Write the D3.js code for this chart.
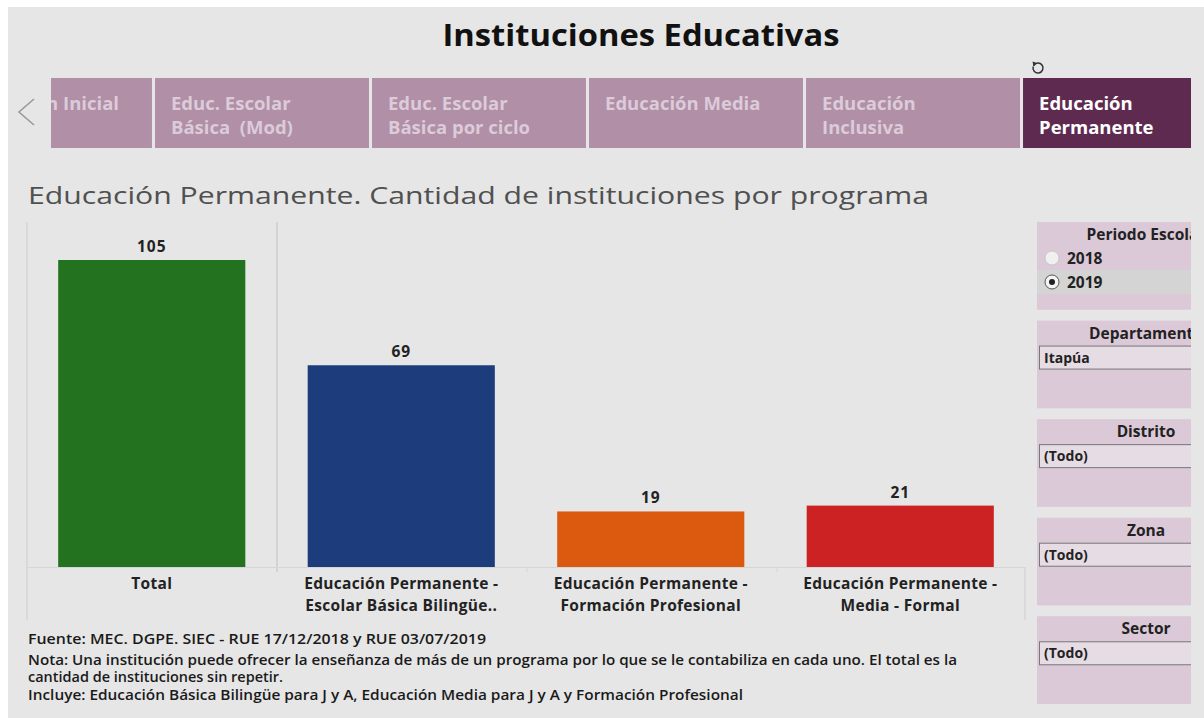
<!DOCTYPE html>
<html>
<head>
<meta charset="utf-8">
<script src="https://cdn.jsdelivr.net/npm/d3@7"></script>
<style>
  html, body { margin: 0; padding: 0; background: #fff; }
  svg { display: block; }
  text { font-family: "Open Sans", "Noto Sans", sans-serif; }
</style>
</head>
<body>
<svg id="chart" width="1204" height="718"></svg>
<script>
// data
let categories = ["Total", "Educación Permanente - Escolar Básica Bilingüe..", "Educación Permanente - Formación Profesional", "Educación Permanente - Media - Formal"];
let categoryLines = [["Total"], ["Educación Permanente -", "Escolar Básica Bilingüe.."], ["Educación Permanente -", "Formación Profesional"], ["Educación Permanente -", "Media - Formal"]];
let values = [105, 69, 19, 21];
let barColors = ["#22721f", "#1c3c7c", "#dc5a10", "#cc2224"];

let tabs = [["Educación Inicial"], ["Educ. Escolar", "Básica  (Mod)"], ["Educ. Escolar", "Básica por ciclo"], ["Educación Media"], ["Educación", "Inclusiva"], ["Educación", "Permanente"]];
let activeTab = 5;

let years = ["2018", "2019"];
let selectedYear = "2019";
let filterTitles = ["Periodo Escolar", "Departamento", "Distrito", "Zona", "Sector"];
let filterValues = [null, "Itapúa", "(Todo)", "(Todo)", "(Todo)"];

let notes = [
  "Fuente: MEC. DGPE. SIEC  - RUE 17/12/2018 y RUE 03/07/2019",
  "Nota: Una institución puede ofrecer la enseñanza de más de un programa por lo que se le contabiliza en cada uno. El total es la",
  "cantidad de instituciones sin repetir.",
  "Incluye:  Educación Básica Bilingüe para J y A, Educación Media para J y A y Formación Profesional"
];
let noteWidths = [458, 929, 255, 715];

let svg = d3.select("#chart");
let width = +svg.attr("width");
let height = +svg.attr("height");

// background
svg.append("rect").attr("x", 8).attr("y", 7).attr("width", width - 8).attr("height", height - 7).attr("fill", "#e6e6e6");

// title
svg.append("text").attr("x", 641).attr("y", 46).attr("text-anchor", "middle")
  .attr("font-size", 31).attr("font-weight", 700).attr("fill", "#111")
  .attr("textLength", 397).attr("lengthAdjust", "spacingAndGlyphs")
  .text("Instituciones Educativas");

// tabs
let tabX = d3.scaleBand().domain(d3.range(tabs.length)).range([-62, 1237]).paddingInner(0.014).paddingOuter(0);
svg.append("clipPath").attr("id", "tabclip").append("rect").attr("x", 51).attr("y", 70).attr("width", 1140).attr("height", 90);
let tabG = svg.append("g").attr("clip-path", "url(#tabclip)");
tabs.forEach((t, i) => {
  let x0 = tabX(i);
  let active = i === activeTab;
  tabG.append("rect").attr("x", x0).attr("y", 78).attr("width", tabX.bandwidth()).attr("height", 70)
    .attr("fill", active ? "#5e2a4f" : "#b08fa7");
  t.forEach((line, j) => {
    let tx = tabG.append("text").attr("y", 110 + j * 24)
      .attr("font-size", 18.5).attr("font-weight", 700)
      .attr("fill", active ? "#ffffff" : "#dccbd8")
      .attr("xml:space", "preserve")
      .text(line);
    // the first tab is scrolled partly out of view
    if (i === 0) tx.attr("x", x0 + 181).attr("text-anchor", "end");
    else tx.attr("x", x0 + 16);
  });
});
// left arrow
svg.append("path").attr("d", "M34,99 L19,112 L34,125").attr("fill", "none").attr("stroke", "#9a9a9a").attr("stroke-width", 1.6);
// reset icon
let ri = svg.append("g").attr("transform", "translate(1038,68)");
ri.append("path").attr("d", d3.arc()({innerRadius: 5, outerRadius: 5, startAngle: -Math.PI * 0.35, endAngle: Math.PI * 1.6}))
  .attr("fill", "none").attr("stroke", "#333").attr("stroke-width", 1.5);
ri.append("path").attr("d", "M-5.5,-6.5 L-1,-5 L-4.5,-1.5 Z").attr("fill", "#333");

// subtitle
svg.append("text").attr("x", 28).attr("y", 204).attr("font-size", 24).attr("fill", "#505050")
  .attr("font-family", "'Noto Sans', sans-serif").attr("font-weight", 400)
  .attr("textLength", 901).attr("lengthAdjust", "spacingAndGlyphs")
  .text("Educación Permanente. Cantidad de instituciones por programa");

// chart
let x = d3.scaleBand().domain(categories).range([27, 1025]).paddingInner(0.25).paddingOuter(0.125);
let y = d3.scaleLinear().domain([0, 105]).range([567, 260]);
let chart = svg.append("g");

// gridlines / dividers
let lineColor = "#cdcdcd";
chart.append("line").attr("x1", 27).attr("x2", 27).attr("y1", 222).attr("y2", 620).attr("stroke", lineColor);
chart.append("line").attr("x1", 277).attr("x2", 277).attr("y1", 222).attr("y2", 572).attr("stroke", lineColor).attr("stroke-width", 1.5);
chart.append("line").attr("x1", 1025).attr("x2", 1025).attr("y1", 567).attr("y2", 620).attr("stroke", lineColor);
chart.append("line").attr("x1", 27).attr("x2", 1025).attr("y1", 567.5).attr("y2", 567.5).attr("stroke", "#d6d6d6");
[527, 777].forEach(v => chart.append("line").attr("x1", v).attr("x2", v).attr("y1", 567).attr("y2", 572).attr("stroke", "#d6d6d6"));

chart.selectAll(".bar").data(values).join("rect").attr("class", "bar")
  .attr("x", (d, i) => x(categories[i]))
  .attr("y", d => y(d))
  .attr("width", x.bandwidth())
  .attr("height", d => y(0) - y(d))
  .attr("fill", (d, i) => barColors[i]);

chart.selectAll(".val").data(values).join("text").attr("class", "val")
  .attr("x", (d, i) => x(categories[i]) + x.bandwidth() / 2)
  .attr("y", d => y(d) - 8)
  .attr("text-anchor", "middle").attr("font-size", 15.5).attr("font-weight", 700).attr("fill", "#222")
  .attr("letter-spacing", 1)
  .text(d => d);

categoryLines.forEach((lines, i) => {
  lines.forEach((line, j) => {
    chart.append("text").attr("x", x(categories[i]) + x.bandwidth() / 2).attr("y", 589 + j * 22)
      .attr("text-anchor", "middle").attr("font-size", 15.5).attr("font-weight", 700).attr("fill", "#222")
      .attr("letter-spacing", 0.3)
      .text(line);
  });
});

// notes
notes.forEach((n, i) => {
  svg.append("text").attr("x", 28).attr("y", [644, 665, 682, 700][i])
    .attr("font-size", 13.5).attr("font-weight", 600).attr("fill", "#1a1a1a")
    .attr("textLength", noteWidths[i]).attr("lengthAdjust", "spacingAndGlyphs")
    .text(n);
});

// filter panels
svg.append("clipPath").attr("id", "fclip").append("rect").attr("x", 1037).attr("y", 200).attr("width", 154).attr("height", 518);
let fg = svg.append("g").attr("clip-path", "url(#fclip)");
let panelY = d3.scaleBand().domain(filterTitles).range([222, 704]).paddingInner(0.11).paddingOuter(0);
filterTitles.forEach((t, i) => {
  let py = panelY(t);
  fg.append("rect").attr("x", 1037).attr("y", py).attr("width", 154).attr("height", panelY.bandwidth()).attr("fill", "#dcc9d8");
  fg.append("text").attr("x", 1146).attr("y", py + 18).attr("text-anchor", "middle")
    .attr("font-size", 15.5).attr("font-weight", 700).attr("fill", "#222").text(t);
  if (i === 0) {
    years.forEach((yr, k) => {
      let ry = py + 36 + k * 24;
      if (yr === selectedYear) fg.append("rect").attr("x", 1037).attr("y", ry - 12).attr("width", 154).attr("height", 24).attr("fill", "#d4d4d4");
      fg.append("circle").attr("cx", 1052).attr("cy", ry).attr("r", 7).attr("fill", yr === selectedYear ? "#f4f4f4" : "#f0f0f0")
        .attr("stroke", yr === selectedYear ? "#555" : "#c8c8c8");
      if (yr === selectedYear) fg.append("circle").attr("cx", 1052).attr("cy", ry).attr("r", 3).attr("fill", "#222");
      fg.append("text").attr("x", 1067).attr("y", ry + 6).attr("font-size", 15.5).attr("font-weight", 700).attr("fill", "#222").text(yr);
    });
  } else {
    fg.append("rect").attr("x", 1039.5).attr("y", py + 25.5).attr("width", 160).attr("height", 23)
      .attr("fill", "#e6dce4").attr("stroke", "#777");
    fg.append("text").attr("x", 1044).attr("y", py + 42).attr("font-size", 14).attr("font-weight", 700).attr("fill", "#222").text(filterValues[i]);
  }
});
</script>
</body>
</html>
